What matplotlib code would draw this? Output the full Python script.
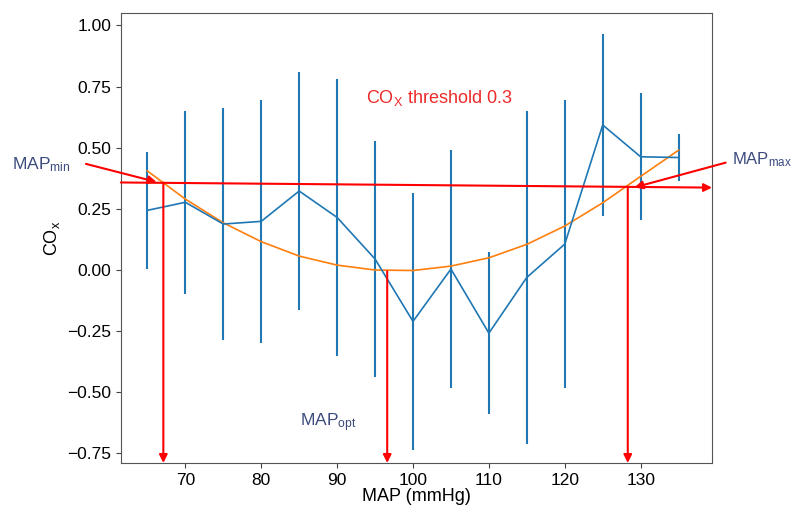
import matplotlib
matplotlib.use("Agg")
import matplotlib.pyplot as plt

plt.rcParams["font.family"] = ["Liberation Sans", "DejaVu Sans"]
plt.rcParams["mathtext.fontset"] = "custom"
plt.rcParams["mathtext.rm"] = "Liberation Sans"
plt.rcParams["mathtext.it"] = "Liberation Sans"

# MAP bins (mmHg), mean COx and SD
map_bins = [65, 70, 75, 80, 85, 90, 95, 100, 105, 110, 115, 120, 125, 130, 135]
cox_mean = [0.244, 0.277, 0.188, 0.199, 0.323, 0.215, 0.045, -0.21, 0.004,
            -0.258, -0.03, 0.106, 0.593, 0.463, 0.46]
cox_sd = [0.238, 0.375, 0.475, 0.497, 0.485, 0.568, 0.483, 0.524, 0.487,
          0.33, 0.68, 0.59, 0.372, 0.26, 0.098]

# fitted curve
fit_x = [65, 70, 75, 80, 85, 90, 95, 100, 105, 110, 115, 120, 125, 130, 135]
fit_y = [0.405, 0.29, 0.193, 0.116, 0.057, 0.02, 0.0, -0.002, 0.016, 0.05,
         0.105, 0.18, 0.275, 0.383, 0.49]

# threshold line ends and MAP limits
thr_x = [61.5, 139.4]
thr_y = [0.358, 0.337]
map_min, map_opt, map_max = 67.1, 96.6, 128.3
y_min_at, y_opt_at, y_max_at = 0.357, -0.005, 0.34

label_col = "#3b4b7d"

fig = plt.figure(figsize=(7.95, 5.09), dpi=100)
ax = fig.add_axes([0.152, 0.0904, 0.7436, 0.8841])

ax.errorbar(map_bins, cox_mean, yerr=cox_sd, color="#1f77b4", lw=1.2,
            elinewidth=1.5, capsize=0)
ax.plot(fit_x, fit_y, color="#ff7f0e", lw=1.2)

ax.set_xlim(61.5, 139.4)
ax.set_ylim(-0.789, 1.051)
ax.set_xticks(range(70, 131, 10))
ax.set_yticks([-0.75, -0.5, -0.25, 0, 0.25, 0.5, 0.75, 1.0])
ax.set_yticklabels(["\u22120.75", "\u22120.50", "\u22120.25", "0.00",
                    "0.25", "0.50", "0.75", "1.00"])
ax.tick_params(labelsize=12.5, color="#444444")
for s in ax.spines.values():
    s.set_color("#555555")

ax.set_xlabel("MAP (mmHg)", fontsize=13, labelpad=0)
ax.set_ylabel(r"CO$_\mathrm{x}$", fontsize=13)

red_arrow = dict(arrowstyle="-|>", color="red", lw=1.5, mutation_scale=12,
                 shrinkA=0, shrinkB=0)

# threshold line
ax.annotate("", xy=(thr_x[1], thr_y[1]), xytext=(thr_x[0], thr_y[0]),
            arrowprops=red_arrow, annotation_clip=False)

# vertical arrows down to the axis
ybot = ax.get_ylim()[0]
for xv, yv in [(map_min, y_min_at), (map_opt, y_opt_at), (map_max, y_max_at)]:
    ax.annotate("", xy=(xv, ybot), xytext=(xv, yv), arrowprops=red_arrow,
                annotation_clip=False)

# pointer arrows from the labels
ax.annotate("", xy=(66.2, 0.36), xytext=(56.9, 0.434), arrowprops=red_arrow,
            annotation_clip=False)
ax.annotate("", xy=(129.2, 0.338), xytext=(141.2, 0.439), arrowprops=red_arrow,
            annotation_clip=False)

fig.text(12 / 795, 1 - 165 / 509, r"MAP$_\mathrm{min}$", color=label_col,
         fontsize=12.5, va="center")
fig.text(732 / 795, 1 - 160 / 509, r"MAP$_\mathrm{max}$", color=label_col,
         fontsize=12, va="center")
fig.text(300 / 795, 1 - 423 / 509, r"MAP$_\mathrm{opt}$", color=label_col,
         fontsize=12.5, va="center")
fig.text(366 / 795, 1 - 98 / 509, r"CO$_\mathrm{X}$ threshold 0.3",
         color="#ee2a2a", fontsize=13, va="center")

fig.savefig("out.png", dpi=100)
